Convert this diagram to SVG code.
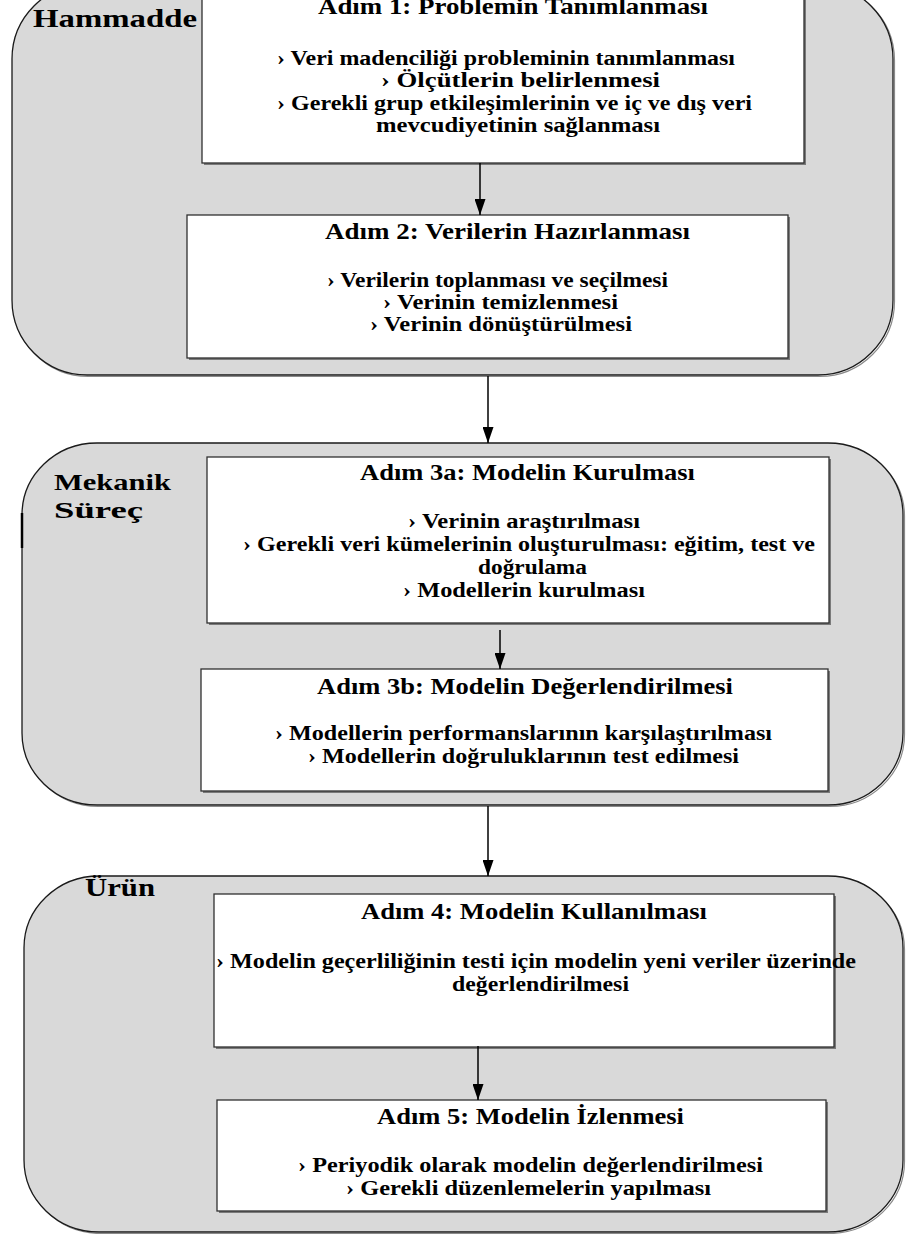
<svg xmlns="http://www.w3.org/2000/svg" width="906" height="1234" viewBox="0 0 906 1234">
  <defs>
    <marker id="arrowhead" viewBox="0 0 16 11" refX="16" refY="5.5" markerWidth="16" markerHeight="11" markerUnits="userSpaceOnUse" orient="auto">
      <path d="M0,0 L16,5.5 L0,11 Z" fill="#000"/>
    </marker>
    <style>
      .stage { fill: #d9d9d9; stroke: #1a1a1a; stroke-width: 1.3; }
      .stage-shadow { fill: none; stroke: #8a8a8a; stroke-width: 1.2; }
      .box { fill: #ffffff; stroke: #303030; stroke-width: 1.3; }
      .box-shadow { fill: #7a7a7a; }
      .flow { stroke: #000; stroke-width: 1.5; fill: none; marker-end: url(#arrowhead); }
      text { font-family: "Liberation Serif", "Times New Roman", serif; font-weight: bold; fill: #000; }
      .stage-label { font-size: 26px; }
      .stage-label-small { font-size: 24px; }
      .title { font-size: 23.5px; }
      .item { font-size: 20.5px; }
    </style>
  </defs>

  <!-- stage containers -->
  <g id="stage-hammadde">
    <rect x="13.5" y="-14.5" width="881" height="391" rx="75" ry="75" class="stage-shadow"/>
    <rect x="12" y="-16" width="881" height="391" rx="75" ry="75" class="stage"/>
    <text class="stage-label" x="33" y="27" textLength="164" lengthAdjust="spacingAndGlyphs">Hammadde</text>
  </g>

  <g id="stage-mekanik">
    <rect x="23.5" y="444.5" width="881" height="362" rx="75" ry="72" class="stage-shadow"/>
    <rect x="22" y="443" width="881" height="362" rx="75" ry="72" class="stage"/>
    <path d="M22,513 V548" stroke="#000" stroke-width="2.5"/>
    <text class="stage-label-small" x="54" y="490" textLength="117" lengthAdjust="spacingAndGlyphs">Mekanik</text>
    <text class="stage-label-small" x="54" y="518" textLength="89" lengthAdjust="spacingAndGlyphs">Süreç</text>
  </g>

  <g id="stage-urun">
    <rect x="25.5" y="877.5" width="879" height="356" rx="75" ry="72" class="stage-shadow"/>
    <rect x="24" y="876" width="879" height="356" rx="75" ry="72" class="stage"/>
    <text class="stage-label" x="85" y="896" textLength="70" lengthAdjust="spacingAndGlyphs">Ürün</text>
  </g>

  <!-- step boxes -->
  <g id="step-1">
    <rect x="204" y="-8" width="602" height="173" class="box-shadow"/>
    <rect x="202" y="-10" width="602" height="173" class="box"/>
    <text class="title" x="318" y="14" textLength="390" lengthAdjust="spacingAndGlyphs">Adım 1: Problemin Tanımlanması</text>
    <text class="item" x="277" y="65" textLength="458" lengthAdjust="spacingAndGlyphs">›  Veri madenciliği probleminin tanımlanması</text>
    <text class="item" x="381" y="87" textLength="279" lengthAdjust="spacingAndGlyphs">›  Ölçütlerin belirlenmesi</text>
    <text class="item" x="277" y="110" textLength="475" lengthAdjust="spacingAndGlyphs">›  Gerekli grup etkileşimlerinin ve iç ve dış veri</text>
    <text class="item" x="376" y="132" textLength="284" lengthAdjust="spacingAndGlyphs">mevcudiyetinin sağlanması</text>
  </g>

  <g id="step-2">
    <rect x="189" y="217" width="601" height="143" class="box-shadow"/>
    <rect x="187" y="215" width="601" height="143" class="box"/>
    <text class="title" x="325" y="239" textLength="365" lengthAdjust="spacingAndGlyphs">Adım 2: Verilerin Hazırlanması</text>
    <text class="item" x="327" y="287" textLength="341" lengthAdjust="spacingAndGlyphs">›  Verilerin toplanması ve seçilmesi</text>
    <text class="item" x="383" y="309" textLength="235" lengthAdjust="spacingAndGlyphs">›  Verinin temizlenmesi</text>
    <text class="item" x="370" y="331" textLength="262" lengthAdjust="spacingAndGlyphs">›  Verinin dönüştürülmesi</text>
  </g>

  <g id="step-3a">
    <rect x="209" y="459" width="622" height="166" class="box-shadow"/>
    <rect x="207" y="457" width="622" height="166" class="box"/>
    <text class="title" x="360" y="480" textLength="335" lengthAdjust="spacingAndGlyphs">Adım 3a: Modelin Kurulması</text>
    <text class="item" x="408" y="528" textLength="232" lengthAdjust="spacingAndGlyphs">›  Verinin araştırılması</text>
    <text class="item" x="243" y="551" textLength="572" lengthAdjust="spacingAndGlyphs">›  Gerekli veri kümelerinin oluşturulması: eğitim, test ve</text>
    <text class="item" x="478" y="574" textLength="109" lengthAdjust="spacingAndGlyphs">doğrulama</text>
    <text class="item" x="403" y="597" textLength="242" lengthAdjust="spacingAndGlyphs">›  Modellerin kurulması</text>
  </g>

  <g id="step-3b">
    <rect x="203" y="671" width="627" height="122" class="box-shadow"/>
    <rect x="201" y="669" width="627" height="122" class="box"/>
    <text class="title" x="317" y="694" textLength="416" lengthAdjust="spacingAndGlyphs">Adım 3b: Modelin Değerlendirilmesi</text>
    <text class="item" x="275" y="740" textLength="497" lengthAdjust="spacingAndGlyphs">›  Modellerin performanslarının karşılaştırılması</text>
    <text class="item" x="308" y="763" textLength="431" lengthAdjust="spacingAndGlyphs">›  Modellerin doğruluklarının test edilmesi</text>
  </g>

  <g id="step-4">
    <rect x="216" y="896" width="620" height="153" class="box-shadow"/>
    <rect x="214" y="894" width="620" height="153" class="box"/>
    <text class="title" x="361" y="919" textLength="346" lengthAdjust="spacingAndGlyphs">Adım 4: Modelin Kullanılması</text>
    <text class="item" x="216" y="968" textLength="640" lengthAdjust="spacingAndGlyphs">›  Modelin geçerliliğinin testi için modelin yeni veriler üzerinde</text>
    <text class="item" x="452" y="991" textLength="177" lengthAdjust="spacingAndGlyphs">değerlendirilmesi</text>
  </g>

  <g id="step-5">
    <rect x="219" y="1102" width="609" height="111" class="box-shadow"/>
    <rect x="217" y="1100" width="609" height="111" class="box"/>
    <text class="title" x="377" y="1124" textLength="307" lengthAdjust="spacingAndGlyphs">Adım 5: Modelin İzlenmesi</text>
    <text class="item" x="298" y="1172" textLength="465" lengthAdjust="spacingAndGlyphs">›  Periyodik olarak modelin değerlendirilmesi</text>
    <text class="item" x="346" y="1195" textLength="365" lengthAdjust="spacingAndGlyphs">›  Gerekli düzenlemelerin yapılması</text>
  </g>

  <!-- connectors -->
  <g id="connectors">
    <line x1="480" y1="163" x2="480" y2="215" class="flow"/>
    <line x1="488" y1="376" x2="488" y2="443" class="flow"/>
    <line x1="500" y1="630" x2="500" y2="669" class="flow"/>
    <line x1="488" y1="806" x2="488" y2="876" class="flow"/>
    <line x1="478" y1="1046" x2="478" y2="1100" class="flow"/>
  </g>
</svg>
